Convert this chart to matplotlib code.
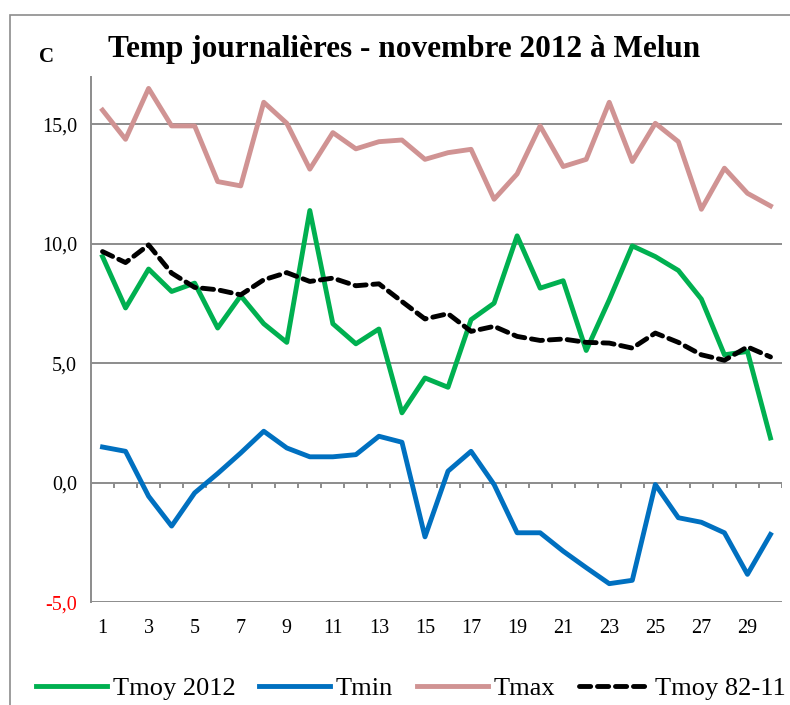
import matplotlib.pyplot as plt
from matplotlib.patches import Rectangle

days = list(range(1, 31))
tmoy_2012 = [9.47, 7.32, 8.95, 8.01, 8.36, 6.48, 7.83, 6.66, 5.88, 11.40,
             6.66, 5.82, 6.44, 2.93, 4.39, 4.0, 6.83, 7.52, 10.34, 8.15,
             8.46, 5.54, 7.66, 9.92, 9.47, 8.89, 7.69, 5.36, 5.50, 1.88]
tmin = [1.50, 1.32, -0.56, -1.81, -0.42, 0.39, 1.25, 2.16, 1.46, 1.09,
        1.09, 1.18, 1.95, 1.70, -2.26, 0.49, 1.32, -0.07, -2.09, -2.09,
        -2.86, -3.55, -4.22, -4.08, -0.07, -1.46, -1.65, -2.09, -3.83, -2.16]
tmax = [15.60, 14.38, 16.51, 14.94, 14.94, 12.61, 12.43, 15.93, 15.05, 13.13,
        14.66, 13.98, 14.28, 14.35, 13.54, 13.82, 13.96, 11.87, 12.93, 14.94,
        13.24, 13.54, 15.93, 13.45, 15.05, 14.28, 11.45, 13.17, 12.12, 11.59]
tmoy_ref = [9.68, 9.22, 9.96, 8.78, 8.18, 8.08, 7.87, 8.50, 8.80, 8.43,
            8.57, 8.25, 8.33, 7.59, 6.86, 7.08, 6.34, 6.55, 6.13, 5.96,
            6.02, 5.88, 5.85, 5.64, 6.27, 5.88, 5.36, 5.13, 5.69, 5.27]
ytick_vals = [-5, 0, 5, 10, 15]
ytick_labels = ['-5,0', '0,0', '5,0', '10,0', '15,0']

plt.rcParams['font.family'] = ['Liberation Serif', 'DejaVu Serif']

W, H = 790, 705
fig = plt.figure(figsize=(W / 100, H / 100), dpi=100)
# chart area border (only left and top visible)
fig.patches.append(Rectangle((10 / W, -0.1), 1.2, 1 - 15 / H + 0.1,
                             transform=fig.transFigure, fill=False,
                             edgecolor='#8c8c8c', linewidth=1.2))

ax = fig.add_axes([91 / W, 1 - 602.3 / H, (782 - 91) / W, (602.3 - 76.7) / H])
ax.set_xlim(0.5, 30.5)
ax.set_ylim(-5, 17)

for v in ytick_vals:
    ax.axhline(v, color='#8c8c8c', lw=1.4, zorder=1)
# category axis ticks at y = 0
ax.vlines([k + 0.5 for k in range(31)], -0.22, 0, color='#8c8c8c', lw=1.4, zorder=1)

lw = 3.5
ax.plot(days, tmoy_2012, color='#00B050', lw=lw, label='Tmoy 2012', zorder=3)
ax.plot(days, tmin, color='#0070C0', lw=lw, label='Tmin', zorder=3)
ax.plot(days, tmax, color='#D09393', lw=lw, label='Tmax', zorder=3)
ax.plot(days, tmoy_ref, color='black', lw=lw, ls=(0, (2.3, 1.4)),
        dash_capstyle='round', label='Tmoy 82-11', zorder=4)

for s in ['top', 'right', 'bottom']:
    ax.spines[s].set_visible(False)
ax.spines['left'].set_color('#8c8c8c')
ax.spines['left'].set_linewidth(1.4)

ax.set_yticks(ytick_vals)
ax.set_yticklabels(ytick_labels, fontsize=14.5)
ax.get_yticklabels()[0].set_color('#FF0000')
ax.tick_params(axis='y', length=0, pad=10)
ax.set_xticks(days[::2])
ax.set_xticklabels([str(d) for d in days[::2]], fontsize=14.5)
ax.tick_params(axis='x', length=0, pad=12)

fig.text(404 / W, 1 - 50 / H, 'Temp journalières - novembre 2012 à Melun',
         ha='center', va='center', fontsize=22.5, fontweight='bold')
fig.text(46 / W, 1 - 57 / H, 'C', ha='center', va='center',
         fontsize=15, fontweight='bold')

handles, labels = ax.get_legend_handles_labels()
fig.legend(handles, labels, loc='center', bbox_to_anchor=(411 / W, 1 - 688 / H),
           ncol=4, frameon=False, fontsize=19, handlelength=2.7,
           handletextpad=0.2, columnspacing=0.9, borderpad=0, borderaxespad=0)

fig.savefig('out.png', dpi=100)
